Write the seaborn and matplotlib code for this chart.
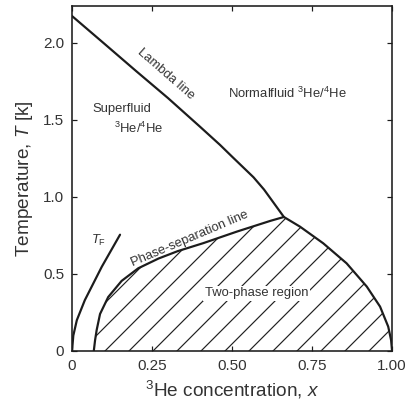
import matplotlib
matplotlib.use("Agg")
import matplotlib.pyplot as plt
import seaborn as sns
import pandas as pd

# ---- data ----
lam_x = [0.0, 0.1, 0.2, 0.3, 0.4, 0.4625, 0.5, 0.567, 0.6, 0.63, 0.662]
lam_T = [2.175, 1.997, 1.818, 1.642, 1.456, 1.338, 1.262, 1.128, 1.048, 0.962, 0.87]

ps_x = [0.068, 0.072, 0.077, 0.0875, 0.113, 0.155, 0.207, 0.27, 0.33, 0.41, 0.515,
        0.62, 0.662, 0.7125, 0.785, 0.858, 0.921, 0.9625, 0.988, 0.997, 1.0]
ps_T = [0.0, 0.07, 0.136, 0.24, 0.35, 0.455, 0.537, 0.60, 0.648, 0.70, 0.775,
        0.845, 0.87, 0.807, 0.699, 0.569, 0.418, 0.288, 0.158, 0.07, 0.0]

tf_x = [0.0, 0.004, 0.015, 0.04, 0.093, 0.15]
tf_T = [0.0, 0.10, 0.20, 0.33, 0.547, 0.755]

x_ticks = [0, 0.25, 0.5, 0.75, 1.0]
x_ticklabels = ["0", "0.25", "0.50", "0.75", "1.00"]
y_ticks = [0, 0.5, 1.0, 1.5, 2.0]
y_ticklabels = ["0", "0.5", "1.0", "1.5", "2.0"]

sns.set_theme(style="ticks")
plt.rcParams["font.family"] = ["Liberation Sans", "DejaVu Sans"]
plt.rcParams["mathtext.fontset"] = "custom"
plt.rcParams["mathtext.rm"] = "Liberation Sans"
plt.rcParams["mathtext.it"] = "Liberation Sans:italic"
plt.rcParams["mathtext.default"] = "regular"
plt.rcParams["hatch.linewidth"] = 0.6

DPI = 144
fig = plt.figure(figsize=(414 / DPI, 402 / DPI), dpi=DPI)
ax = fig.add_axes([0.174, 0.127, 0.947 - 0.174, 0.985 - 0.127])

ink = "#1c1c1c"
txt = "#333333"

lam = pd.DataFrame({"x": lam_x, "T": lam_T})
ps = pd.DataFrame({"x": ps_x, "T": ps_T})
tf = pd.DataFrame({"x": tf_x, "T": tf_T})

ax.fill(ps["x"], ps["T"], facecolor="none", edgecolor="#222222", linewidth=0,
        hatch="//", zorder=1)
sns.lineplot(data=lam, x="x", y="T", sort=False, color=ink, lw=1.1, ax=ax, zorder=3)
sns.lineplot(data=ps, x="x", y="T", sort=False, color=ink, lw=1.1, ax=ax, zorder=3)
sns.lineplot(data=tf, x="x", y="T", sort=False, color=ink, lw=1.1, ax=ax, zorder=3)

ax.set_xlim(0, 1.0)
ax.set_ylim(0, 2.24)
ax.set_xticks(x_ticks)
ax.set_xticklabels(x_ticklabels)
ax.set_yticks(y_ticks)
ax.set_yticklabels(y_ticklabels)
ax.tick_params(direction="in", length=2.6, width=0.6, top=True, right=True,
               labelsize=7.6, colors=ink, labelcolor=txt, pad=4)
for s in ax.spines.values():
    s.set_linewidth(0.8)
    s.set_color(ink)

ax.set_xlabel("$^{3}$He concentration, $\\mathit{x}$", fontsize=9.5, color=txt, labelpad=3)
ax.set_ylabel("Temperature, $\\mathit{T}$ [k]", fontsize=9.5, color=txt, labelpad=4)

fs = 6.5
ax.text(0.292, 1.80, "Lambda line", rotation=-41, ha="center", va="center",
        fontsize=fs, color=txt)
ax.text(0.673, 1.673, "Normalfluid $^{3}$He/$^{4}$He", ha="center", va="center",
        fontsize=fs, color=txt)
ax.text(0.155, 1.569, "Superfluid", ha="center", va="center", fontsize=fs, color=txt)
ax.text(0.207, 1.446, "$^{3}$He/$^{4}$He", ha="center", va="center", fontsize=fs, color=txt)
ax.text(0.369, 0.728, "Phase-separation line", rotation=23, ha="center", va="center",
        fontsize=fs, color=txt)
ax.text(0.577, 0.374, "Two-phase region", ha="center", va="center", fontsize=fs,
        color=txt, zorder=4,
        bbox=dict(facecolor="white", edgecolor="none", pad=0.8))
ax.text(0.082, 0.72, "$\\mathit{T}_{F}$", ha="center", va="center", fontsize=fs, color=txt)

fig.savefig("out.png", dpi=DPI)
